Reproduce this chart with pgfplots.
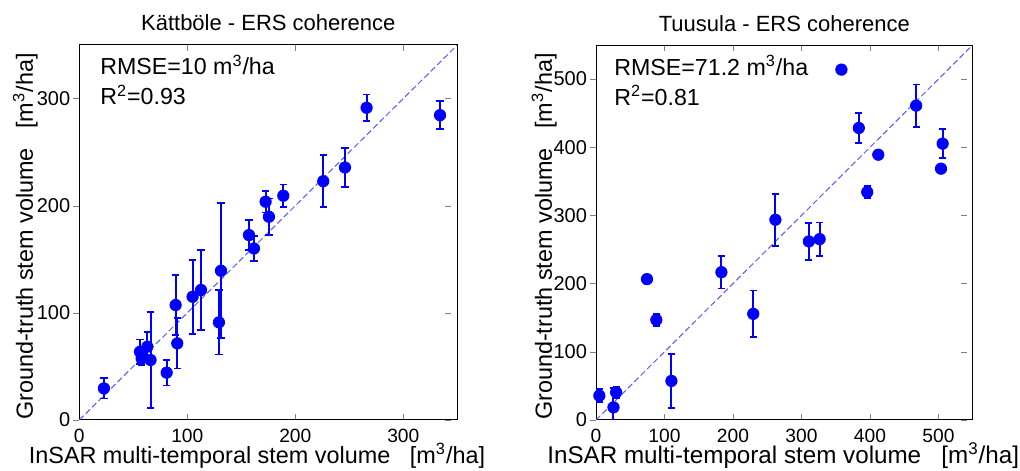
\documentclass[border=0pt]{standalone}
\usepackage{pgfplots}
\pgfplotsset{compat=1.18}
\usepackage{fontspec}
\setmainfont{Liberation Sans}
\definecolor{mblue}{RGB}{0,0,255}
\begin{document}
\begin{tikzpicture}
\useasboundingbox (0,0) rectangle (510pt,235pt);
\pgfplotsset{
  myax/.style={
    anchor=south west, width=189pt, height=187.5pt, scale only axis,
    tick align=inside, major tick length=3pt,
    y tick style={xshift=-3pt},
    ticklabel style={font=\fontsize{10}{12}\selectfont},
    /pgf/number format/assume math mode=true,
    xticklabel style={inner sep=0pt, yshift=-4.1pt, font=\fontsize{9.6}{11}\selectfont},
    yticklabel style={xshift=-1pt},
    title style={at={(axis description cs:0.5,1)}, anchor=base, yshift=1pt, font=\fontsize{11}{13}\selectfont},
    xlabel style={anchor=base, inner sep=0pt, font=\fontsize{11.7}{14}\selectfont},
    ylabel style={anchor=base, font=\fontsize{11.7}{14}\selectfont},
    axis line style={line width=0.5pt},
    clip=true,
  },
  pts/.style={only marks, mark=*, mark size=2.85pt, mark options={draw=mblue, fill=mblue},
    error bars/.cd, y dir=both, y explicit,
    error bar style={line width=1pt, mblue},
    error mark options={rotate=90, mark size=1.8pt, line width=0.9pt, mblue}},
  dline/.style={mblue!65, line width=0.5pt, dash pattern=on 3pt off 1.5pt},
}
% left
\begin{axis}[myax, at={(39.65pt,25pt)},
  xmin=0, xmax=350, ymin=0, ymax=350,
  xtick={0,100,200,300}, ytick={0,100,200,300},
  title={Kättböle - ERS coherence},
  xlabel={InSAR multi-temporal stem volume \ \ [m\textsuperscript{3}/ha]},
  ylabel={Ground-truth stem volume \ \ [m\textsuperscript{3}/ha]},
  xlabel style={at={(axis description cs:0.47,-0.116)}},
  ylabel style={at={(axis description cs:-0.1225,0.489)}},
]
\addplot[dline] coordinates {(0,0) (350,350)};
\addplot[pts] table[x=x, y=y, y error=e] {
x y e
22.8 29.5 9.5
56.2 63.7 11.5
57.7 57.5 6
63.0 68.4 14
66.0 56.0 45
80.9 44.2 12
89.2 107.3 28
90.7 71.5 23.5
104.9 115.0 34.6
112.7 121.3 37
129.3 91.1 30
131.2 139.3 63
157.1 172.6 14
161.7 160.1 11.6
172.5 203.7 10
175.6 189.7 17
188.9 209.3 10.5
225.9 222.9 24.4
246.0 235.7 18.4
266.0 291.4 12.4
334.0 284.5 13.2
};
\node[anchor=base west, font=\fontsize{11.6}{14}\selectfont] at (rel axis cs:0.037,0.92) {RMSE=10 m\textsuperscript{3}/ha};
\node[anchor=base west, font=\fontsize{11.6}{14}\selectfont] at (rel axis cs:0.037,0.84) {R\textsuperscript{2}=0.93};
\end{axis}
% right
\begin{axis}[myax, at={(298pt,25pt)}, width=188.35pt,
  xmin=0, xmax=550, ymin=0, ymax=550,
  xtick={0,100,200,300,400,500}, ytick={0,100,200,300,400,500},
  title={Tuusula - ERS coherence},
  xlabel={InSAR multi-temporal stem volume \ \ [m\textsuperscript{3}/ha]},
  ylabel={Ground-truth stem volume \ \ [m\textsuperscript{3}/ha]},
  xlabel style={at={(axis description cs:0.497,-0.116)}, font=\fontsize{12.1}{14}\selectfont},
  ylabel style={at={(axis description cs:-0.117,0.489)}},
]
\addplot[dline] coordinates {(0,0) (550,550)};
\addplot[pts] table[x=x, y=y, y error=e] {
x y e
4.9 35.7 9.3
25.5 18.6 28
29.4 40.6 8.5
74.4 206.6 3
88.1 146.8 9
110.1 57.3 40
183.1 216.8 23.8
229.6 155.7 34.3
261.9 293.7 38
310.8 261.9 27.6
326.5 265.3 24.3
358.3 513.9 2
383.7 428.3 22.5
396.0 334.3 9
412.1 389.1 4
467.4 461.1 31
503.7 368.6 5
506.1 405.3 21
};
\node[anchor=base west, font=\fontsize{11.6}{14}\selectfont] at (rel axis cs:0.03,0.92) {RMSE=71.2 m\textsuperscript{3}/ha};
\node[anchor=base west, font=\fontsize{11.6}{14}\selectfont] at (rel axis cs:0.03,0.84) {R\textsuperscript{2}=0.81};
\end{axis}
\end{tikzpicture}
\end{document}
